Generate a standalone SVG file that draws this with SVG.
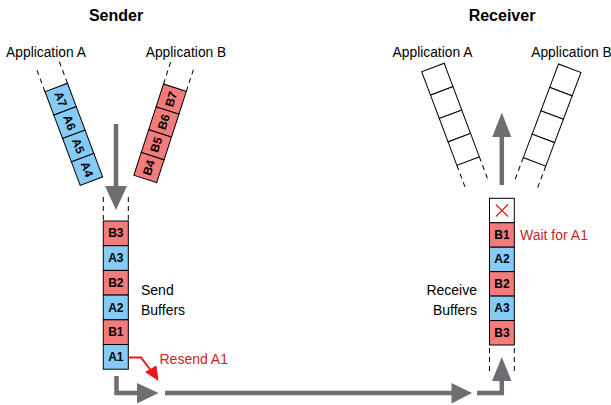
<svg xmlns="http://www.w3.org/2000/svg" width="611" height="405" viewBox="0 0 611 405">
<style>
text{font-family:"Liberation Sans",Arial,sans-serif;fill:#000}
.title{font-size:16px;font-weight:bold;text-anchor:middle}
.app{font-size:13.8px;text-anchor:middle}
.lbl{font-size:14px}
.cell{font-size:12px;font-weight:bold;text-anchor:middle;dominant-baseline:central}
.red{fill:#c4262b;font-size:14px}
.b{fill:#85cbf5;stroke:#000;stroke-width:1}
.p{fill:#f27c7c;stroke:#000;stroke-width:1}
.w{fill:#fff;stroke:#000;stroke-width:1}
.dash{stroke:#000;stroke-width:1;stroke-dasharray:5 4;fill:none}
.shaft{stroke:#6d6e71;stroke-width:4.5;fill:none}
.head{fill:#6d6e71}
</style>

<text class="title" x="116" y="21">Sender</text>
<text class="title" x="502" y="21">Receiver</text>

<g id="sender-app-a">
  <text class="app" x="46" y="56.5">Application A</text>
  <g transform="translate(45,91.7) rotate(-20.6)">
    <line class="dash" x1="0" y1="0" x2="0" y2="-23"/>
    <line class="dash" x1="24" y1="0" x2="24" y2="-23"/>
    <rect class="b" x="0" y="0" width="24" height="25"/>
    <rect class="b" x="0" y="25" width="24" height="25"/>
    <rect class="b" x="0" y="50" width="24" height="25"/>
    <rect class="b" x="0" y="75" width="24" height="25"/>
    <text class="cell" transform="translate(12,12.5) rotate(90)">A7</text>
    <text class="cell" transform="translate(12,37.5) rotate(90)">A6</text>
    <text class="cell" transform="translate(12,62.5) rotate(90)">A5</text>
    <text class="cell" transform="translate(12,87.5) rotate(90)">A4</text>
  </g>
</g>

<g id="sender-app-b">
  <text class="app" x="186" y="56.5">Application B</text>
  <g transform="translate(163.5,84) rotate(18)">
    <line class="dash" x1="0" y1="0" x2="0" y2="-23"/>
    <line class="dash" x1="24" y1="0" x2="24" y2="-23"/>
    <rect class="p" x="0" y="0" width="24" height="24"/>
    <rect class="p" x="0" y="24" width="24" height="24"/>
    <rect class="p" x="0" y="48" width="24" height="24"/>
    <rect class="p" x="0" y="72" width="24" height="24"/>
    <text class="cell" transform="translate(12,12) rotate(-90)">B7</text>
    <text class="cell" transform="translate(12,36) rotate(-90)">B6</text>
    <text class="cell" transform="translate(12,60) rotate(-90)">B5</text>
    <text class="cell" transform="translate(12,84) rotate(-90)">B4</text>
  </g>
</g>

<g id="send-buffers">
  <line class="dash" x1="103.3" y1="197" x2="103.3" y2="221"/>
  <line class="dash" x1="128.3" y1="197" x2="128.3" y2="221"/>
  <rect class="p" x="103.3" y="221" width="25" height="24.7"/>
  <rect class="b" x="103.3" y="245.7" width="25" height="24.7"/>
  <rect class="p" x="103.3" y="270.4" width="25" height="24.7"/>
  <rect class="b" x="103.3" y="295.1" width="25" height="24.7"/>
  <rect class="p" x="103.3" y="319.8" width="25" height="24.7"/>
  <rect class="b" x="103.3" y="344.5" width="25" height="24.7"/>
  <text class="cell" x="115.8" y="233.4">B3</text>
  <text class="cell" x="115.8" y="258.1">A3</text>
  <text class="cell" x="115.8" y="282.8">B2</text>
  <text class="cell" x="115.8" y="307.5">A2</text>
  <text class="cell" x="115.8" y="332.2">B1</text>
  <text class="cell" x="115.8" y="356.9">A1</text>
  <text class="lbl" x="141" y="295">Send</text>
  <text class="lbl" x="141" y="315">Buffers</text>
</g>

<g id="receiver-app-a">
  <text class="app" x="432.5" y="56.5">Application A</text>
  <g transform="translate(421.7,71.7) rotate(-20.6)">
    <rect class="w" x="0" y="0" width="24" height="25"/>
    <rect class="w" x="0" y="25" width="24" height="25"/>
    <rect class="w" x="0" y="50" width="24" height="25"/>
    <rect class="w" x="0" y="75" width="24" height="25"/>
    <line class="dash" x1="0" y1="100" x2="0" y2="123"/>
    <line class="dash" x1="24" y1="100" x2="24" y2="123"/>
  </g>
</g>

<g id="receiver-app-b">
  <text class="app" x="571.5" y="56.5">Application B</text>
  <g transform="translate(558.5,64) rotate(20.6)">
    <rect class="w" x="0" y="0" width="24" height="25"/>
    <rect class="w" x="0" y="25" width="24" height="25"/>
    <rect class="w" x="0" y="50" width="24" height="25"/>
    <rect class="w" x="0" y="75" width="24" height="25"/>
    <line class="dash" x1="0" y1="100" x2="0" y2="123"/>
    <line class="dash" x1="24" y1="100" x2="24" y2="123"/>
  </g>
</g>

<g id="receive-buffers">
  <rect class="w" x="489.5" y="198.3" width="24.8" height="24.45"/>
  <rect class="p" x="489.5" y="222.75" width="24.8" height="24.45"/>
  <rect class="b" x="489.5" y="247.2" width="24.8" height="24.45"/>
  <rect class="p" x="489.5" y="271.65" width="24.8" height="24.45"/>
  <rect class="b" x="489.5" y="296.1" width="24.8" height="24.45"/>
  <rect class="p" x="489.5" y="320.55" width="24.8" height="24.45"/>
  <path d="M495.8,204.5 L508,216.5 M508,204.5 L495.8,216.5" stroke="#e01b1b" stroke-width="1.2" fill="none"/>
  <text class="cell" x="501.9" y="235">B1</text>
  <text class="cell" x="501.9" y="259.4">A2</text>
  <text class="cell" x="501.9" y="283.9">B2</text>
  <text class="cell" x="501.9" y="308.3">A3</text>
  <text class="cell" x="501.9" y="332.8">B3</text>
  <line class="dash" x1="489.5" y1="348" x2="489.5" y2="371"/>
  <line class="dash" x1="514.3" y1="348" x2="514.3" y2="371"/>
  <text class="lbl" x="477" y="295" text-anchor="end">Receive</text>
  <text class="lbl" x="477" y="315" text-anchor="end">Buffers</text>
  <text class="red" x="520" y="240">Wait for A1</text>
</g>

<g id="connectors">
  <line class="shaft" x1="116" y1="124" x2="116" y2="189"/>
  <polygon class="head" points="105,186 127,186 116,210"/>
  <path class="shaft" d="M116.5,376 V393 H139"/>
  <polygon class="head" points="137,383 158.5,393 137,403.5"/>
  <line class="shaft" x1="165" y1="393" x2="454" y2="393"/>
  <polygon class="head" points="451.5,383 472,393 451.5,403.5"/>
  <path class="shaft" d="M477,393 H501.8 V378"/>
  <polygon class="head" points="492,381 511.5,381 501.8,357"/>
  <line class="shaft" x1="501.8" y1="185" x2="501.8" y2="134"/>
  <polygon class="head" points="492.3,137 511.3,137 501.8,112.5"/>
  <path d="M128.5,357.5 H141 L152,372" stroke="#e8171b" stroke-width="2" fill="none"/>
  <polygon points="145,372 158.5,381 156.5,365.5" fill="#e8171b"/>
  <text class="red" x="159.5" y="363.5">Resend A1</text>
</g>
</svg>
